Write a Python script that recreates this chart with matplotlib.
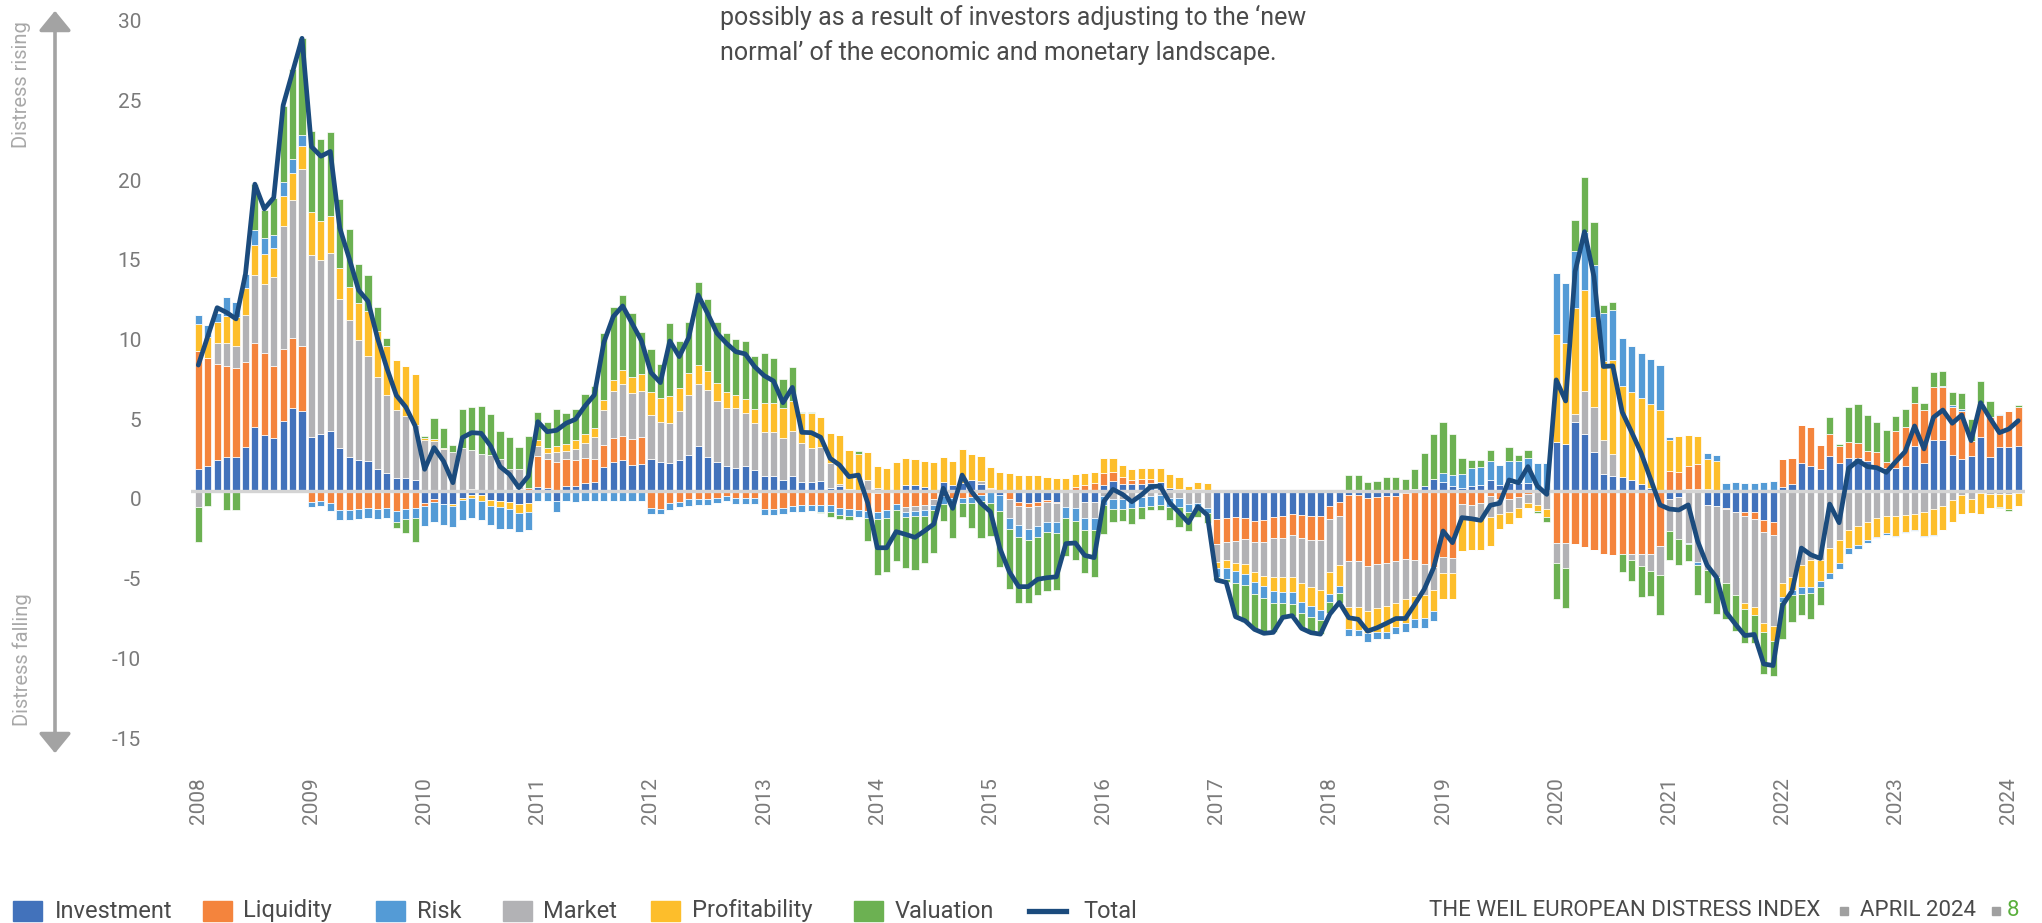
import numpy as np
import matplotlib
matplotlib.use("Agg")
import matplotlib.pyplot as plt
from matplotlib.patches import Rectangle, FancyArrowPatch
from matplotlib.lines import Line2D
import matplotlib.transforms as mtransforms

# ---------------- data (monthly, Jan 2008 .. Feb 2024) ----------------
years = list(range(2008, 2025))

investment = [
    1.4, 1.56, 1.96, 2.16, 2.16, 2.77, 4.03, 3.54, 3.31, 4.38, 5.22, 5.04,
    3.4, 3.6, 3.75, 2.68, 2.16, 1.96, 1.9, 1.38, 1.1, 0.81, 0.81, 0.7,
    -0.77, -0.52, -0.84, -0.84, -0.42, -0.25, -0.25, -0.56, -0.63, -0.69, -0.84, -0.73,
    0.25, 0.17, -0.63, 0.31, 0.31, 0.52, 0.59, 1.51, 1.82, 1.95, 1.61, 1.67,
    1.99, 1.8, 1.78, 1.95, 2.26, 2.82, 2.15, 1.8, 1.57, 1.46, 1.57, 1.32,
    0.94, 0.94, 0.69, 0.94, 0.59, 0.59, 0.65, 0.21, 0.31, 0.1, 0, 0,
    -0.15, 0, 0, 0.36, 0.36, 0.25, 0, 0.59, 0.38, 0.48, 0.69, 0.44,
    0.1, -0.25, 0, -0.67, -0.77, -0.67, -0.56, -0.67, 0, 0, -0.67, -0.67,
    0.38, 0.65, 0.44, 0.42, 0.44, 0.48, 0.54, 0.21, 0.13, 0, 0.13, 0,
    -1.78, -1.72, -1.65, -1.72, -1.88, -1.82, -1.65, -1.57, -1.44, -1.51, -1.55, -1.55,
    -0.94, -0.71, -0.25, -0.25, -0.42, -0.36, -0.29, -0.29, -0.15, 0.1, 0.31, 0.77,
    0.56, 0.31, 0.21, 0.31, 0.36, 0.69, 0.36, 0.52, 0.52, 0.52, 0, 0,
    3.1, 2.93, 4.3, 3.58, 2.45, 1.08, 0.93, 0.87, 0.69, 0.43, 0.17, 0,
    -0.48, -0.39, 0.1, 0.1, -0.87, -0.93, -1.08, -1.3, -1.3, -1.34, -1.84, -1.95,
    0.22, 0.43, 1.78, 1.57, 1.4, 2.2, 1.74, 2.09, 2.05, 1.88, 1.49, 1.42,
    1.42, 1.59, 2.82, 1.78, 3.2, 3.2, 2.26, 1.99, 2.2, 3.41, 2.15, 2.74,
    2.74, 2.82]

liquidity = [
    7.4, 6.77, 5.99, 5.71, 5.56, 5.33, 5.25, 5.11, 4.56, 4.55, 4.38, 4.04,
    -0.72, -0.65, -0.78, -1.21, -1.21, -1.15, -1.07, -1.1, -1.07, -1.27, -1.15, -1.05,
    -0.17, -0.17, 0, 0, 0, 0.1, 0, 0, 0, 0, 0.15, 0.2,
    1.95, 1.82, 1.82, 1.67, 1.63, 1.55, 1.4, 1.36, 1.53, 1.51, 1.63, 1.72,
    -1.05, -1.15, -0.77, -0.67, -0.52, -0.52, -0.52, -0.42, -0.29, -0.46, -0.46, -0.46,
    -1.15, -1.15, -1.09, -0.94, -0.9, -0.88, -0.88, -0.88, -1.09, -1.15, -1.19, -1.26,
    -1.15, -1.19, -0.82, -1.03, -0.92, -0.88, -0.52, -0.3, -0.46, -0.42, -0.36, -0.25,
    0.1, 0, -0.52, -0.27, -0.21, -0.27, -0.1, -0.1, 0, 0.23, 0.38, 0.48,
    0.77, 0.52, 0.44, 0.27, 0.29, 0.27, 0, 0, 0, 0, 0, 0,
    -1.55, -1.46, -1.46, -1.26, -1.3, -1.36, -1.32, -1.36, -1.32, -1.46, -1.53, -1.53,
    -0.84, -0.86, -4.14, -4.14, -4.29, -4.23, -4.25, -4.1, -4.14, -4.35, -4.56, -4.77,
    -4.12, -4.18, -0.84, -0.9, -0.73, -0.31, -0.48, -0.48, -0.38, -0.21, 0, 0,
    -3.28, -3.24, -3.3, -3.51, -3.69, -3.95, -4.01, -3.97, -3.97, -3.97, -3.97, -3.47,
    1.26, 1.19, 1.45, 1.58, 0.15, 0, -0.07, 0, -0.26, -0.43, -0.72, -0.8,
    1.78, 1.67, 2.34, 2.43, 1.49, 1.38, 1.11, 1.0, 0.94, 0.63, 0.94, 0.38,
    2.34, 2.45, 2.72, 3.31, 3.31, 3.31, 3.03, 3.03, 0.94, 2.13, 2.51, 2.03,
    2.3, 2.47]

market = [
    -1.0, 0, 1.33, 1.41, 1.36, 2.94, 4.29, 4.35, 5.56, 7.67, 8.64, 11.12,
    11.38, 10.9, 11.18, 9.37, 8.59, 7.49, 6.54, 5.77, 4.95, 4.26, 3.89, 3.45,
    3.2, 3.14, 2.66, 2.45, 2.72, 2.45, 2.3, 2.24, 2.03, 1.4, 1.21, 0,
    0.63, 0.42, 0.63, 0.52, 0.71, 0.96, 1.4, 2.22, 2.93, 3.24, 2.89, 2.89,
    2.78, 2.51, 2.51, 3.08, 3.77, 3.87, 4.16, 3.85, 3.66, 3.77, 3.35, 2.97,
    2.78, 2.74, 2.62, 2.82, 2.41, 2.13, 2.13, 1.57, 0.15, 0, 0, 0.69,
    0.17, 0, 0, -0.27, -0.31, -0.31, -0.36, 0, 0, 0, 0, 0.21,
    0, 0, -1.15, -1.19, -1.4, -1.23, -1.26, -1.15, -1.03, -1.09, -1.0, -1.0,
    -0.3, -0.52, -0.52, -0.46, -0.36, -0.29, -0.25, -0.46, -0.46, -0.82, -0.73, -1.05,
    -1.11, -1.15, -1.42, -1.61, -1.92, -2.15, -2.41, -2.45, -2.66, -2.82, -2.93, -3.1,
    -3.28, -3.08, -2.87, -2.87, -2.82, -2.78, -2.68, -2.66, -2.51, -2.24, -1.97, -1.44,
    -1.0, -0.94, -0.84, -0.88, -0.88, -1.3, -0.98, -0.84, -0.67, -0.52, -0.88, -1.15,
    -1.21, -1.57, 0.52, 2.71, 2.82, 2.1, 1.41, 0, -0.37, -0.76, -1.02, -1.78,
    -2.02, -2.65, -3.25, -4.45, -4.08, -4.49, -4.6, -5.21, -5.49, -5.49, -5.73, -5.75,
    -5.75, -5.42, -4.66, -4.33, -4.33, -3.56, -3.08, -2.45, -2.18, -1.92, -1.72, -1.57,
    -1.57, -1.51, -1.44, -1.3, -1.15, -0.94, -0.56, -0.25, -0.52, -0.15, -0.21, -0.21,
    -0.21, -0.15]

profitability = [
    1.65, 1.32, 1.33, 1.67, 1.82, 1.7, 1.88, 1.84, 1.79, 1.93, 1.7, 1.47,
    2.74, 2.45, 2.3, 1.93, 2.02, 2.37, 2.83, 2.88, 3.05, 3.17, 3.17, 3.18,
    0.15, 0.15, 0.06, -0.1, -0.15, -0.17, -0.38, -0.38, -0.38, -0.46, -0.52, -0.59,
    0.38, 0.27, 0.38, 0.42, 0.52, 0.52, 0.54, 0.61, 0.67, 0.88, 1.03, 1.09,
    1.46, 1.51, 1.67, 1.42, 1.4, 1.21, 1.23, 1.11, 1.0, 0.79, 0.84, 0.84,
    1.82, 1.82, 1.88, 1.88, 1.88, 2.15, 1.84, 1.88, 3.03, 2.47, 2.3, 1.74,
    1.4, 1.46, 1.8, 1.7, 1.63, 1.65, 1.8, 1.57, 1.51, 2.15, 1.63, 1.55,
    1.28, 1.17, 1.11, 1.0, 1.0, 1.0, 0.86, 0.8, 0.8, 0.82, 0.73, 0.69,
    0.94, 0.88, 0.73, 0.71, 0.69, 0.67, 0.88, 0.86, 0.77, 0.33, 0.46, 0.48,
    -0.42, -0.48, -0.52, -0.59, -0.63, -0.63, -0.88, -0.94, -0.94, -1.19, -1.21, -1.26,
    -1.4, -1.32, -1.42, -1.46, -1.36, -1.46, -1.61, -1.46, -1.51, -1.42, -1.42, -1.32,
    -1.67, -1.67, -2.09, -1.92, -2.09, -1.84, -0.9, -0.77, -0.67, -0.31, -0.38, -0.46,
    6.78, 6.38, 6.64, 6.33, 5.62, 5.0, 5.86, 5.7, 5.49, 5.42, 5.29, 5.1,
    1.95, 2.28, 1.95, 1.74, 1.87, 1.89, 0, 0, -0.33, -0.5, -0.56, -0.89,
    -0.93, -0.82, -1.37, -1.67, -1.3, -1.57, -1.46, -1.15, -1.21, -1.15, -1.15, -1.09,
    -1.26, -1.05, -1.0, -1.53, -1.61, -1.51, -1.4, -1.19, -0.88, -1.3, -0.88, -0.77,
    -0.94, -0.77]

risk = [
    0.6, 0.78, 0.58, 1.24, 0.94, 0.89, 0.92, 1.01, 0.86, 0.87, 0.9, 0.69,
    -0.29, -0.3, -0.49, -0.63, -0.63, -0.63, -0.6, -0.68, -0.6, -0.66, -0.58, -0.65,
    -1.25, -1.26, -1.3, -1.32, -1.26, -1.26, -1.19, -1.21, -1.36, -1.26, -1.19, -1.15,
    -0.63, -0.63, -0.69, -0.63, -0.67, -0.63, -0.63, -0.63, -0.63, -0.63, -0.63, -0.63,
    -0.42, -0.29, -0.42, -0.36, -0.4, -0.36, -0.36, -0.36, -0.33, -0.36, -0.36, -0.36,
    -0.36, -0.36, -0.38, -0.36, -0.4, -0.38, -0.42, -0.46, -0.42, -0.4, -0.42, -0.46,
    -0.46, -0.52, -0.38, -0.36, -0.31, -0.36, -0.31, -0.5, -0.36, -0.36, -0.38, -0.35,
    -0.73, -1.0, -0.71, -0.77, -0.69, -0.69, -0.67, -0.69, -0.69, -0.79, -0.77, -0.77,
    -0.6, -0.63, -0.63, -0.63, -0.67, -0.63, -0.63, -0.52, -0.52, -0.48, -0.25, -0.31,
    -0.52, -0.73, -0.73, -0.73, -0.73, -0.77, -0.75, -0.73, -0.73, -0.69, -0.71, -0.67,
    -0.48, -0.46, -0.42, -0.38, -0.56, -0.48, -0.48, -0.46, -0.52, -0.56, -0.63, -0.63,
    0.54, 0.67, 0.88, 1.15, 1.17, 1.19, 1.26, 1.36, 1.36, 1.57, 1.78, 1.78,
    3.79, 3.72, 3.62, 3.64, 3.28, 2.97, 3.15, 3.02, 2.93, 2.82, 2.82, 2.82,
    0.15, 0, -0.1, -0.22, 0.37, 0.39, 0.48, 0.54, 0.48, 0.5, 0.59, 0.65,
    -0.3, -0.26, -0.43, -0.42, -0.38, -0.36, -0.36, -0.36, -0.27, -0.21, -0.1, -0.1,
    -0.08, -0.1, -0.1, -0.08, -0.06, 0.1, 0.1, 0.1, 0, 0, 0, 0.06,
    0, 0]

valuation = [
    -2.2, -0.92, 0, -1.2, -1.2, 0, 2.88, 1.8, 2.31, 4.75, 5.66, 6.04,
    5.04, 5.15, 5.27, 4.35, 3.69, 2.45, 2.3, 1.5, 0.47, -0.37, -0.92, -1.5,
    0.1, 1.32, 1.21, 0.42, 2.45, 2.74, 3.03, 2.57, 1.74, 1.99, 1.4, 3.24,
    1.76, 1.65, 2.34, 1.99, 1.99, 2.51, 2.66, 4.2, 4.6, 4.71, 4.0, 2.62,
    2.66, 2.13, 4.56, 2.97, 3.2, 5.23, 4.48, 3.83, 3.66, 3.51, 3.68, 3.35,
    3.1, 2.87, 1.84, 2.11, 0.06, 0.06, -0.06, -0.27, -0.25, -0.27, 0.21, -1.4,
    -3.51, -3.35, -3.2, -3.2, -3.41, -2.95, -2.72, -1.1, -2.15, -0.84, -1.61, -2.36,
    -2.09, -3.5, -3.79, -4.1, -3.93, -3.68, -3.71, -3.57, -2.36, -2.45, -2.72, -2.93,
    -1.8, -0.77, -0.73, -1.0, -0.73, -0.27, -0.31, -0.82, -1.26, -1.19, -0.63, -0.67,
    -0.2, -0.15, -2.09, -2.3, -2.22, -2.2, -1.86, -0.88, -0.73, -0.94, -0.96, -0.88,
    -0.73, -0.59, 1.0, 1.0, 0.58, 0.65, 0.9, 0.9, 0.73, 1.28, 2.09, 2.78,
    3.22, 2.57, 1.0, 0.48, 0.4, 0.69, 0, 0.88, 0.36, 0.48, -0.15, -0.33,
    -2.26, -2.55, 1.91, 3.47, 2.71, 0.54, 0.48, -1.13, -1.3, -1.89, -1.58, -2.52,
    -1.84, -1.58, -1.04, -1.84, -2.06, -2.28, -2.28, -2.28, -2.17, -1.78, -2.6, -2.21,
    -2.3, -1.74, -1.34, -1.63, -1.15, 1.09, 0.08, 2.15, 2.47, 2.26, 1.92, 2.03,
    0.96, 1.09, 1.07, 0.46, 0.98, 0.92, 0.79, 1.05, 1.38, 1.36, 1.0, -0.1,
    -0.08, 0.1]

total = [
    7.9, 9.7, 11.5, 11.2, 10.8, 13.6, 19.25, 17.7, 18.4, 24.2, 26.3, 28.4,
    21.6, 21.0, 21.3, 16.5, 14.6, 12.6, 11.9, 9.6, 7.7, 6.0, 5.27, 4.08,
    1.36, 2.72, 1.88, 0.52, 3.35, 3.66, 3.62, 2.82, 1.53, 1.05, 0.21, 0.94,
    4.35, 3.72, 3.81, 4.25, 4.5, 5.33, 6.03, 9.31, 10.94, 11.61, 10.52, 9.41,
    7.43, 6.8, 9.41, 8.43, 9.62, 12.3, 11.15, 9.9, 9.27, 8.74, 8.6, 7.8,
    7.24, 6.9, 5.54, 6.5, 3.68, 3.66, 3.37, 2.05, 1.63, 0.9, 1.0, -0.77,
    -3.56, -3.56, -2.55, -2.72, -2.91, -2.51, -2.07, 0.17, -1.09, 1.0, -0.04, -0.77,
    -1.3, -3.6, -5.06, -6.0, -6.0, -5.54, -5.44, -5.38, -3.3, -3.26, -4.04, -4.18,
    -0.67, 0.1, -0.21, -0.67, -0.25, 0.27, 0.31, -0.73, -1.34, -1.99, -0.98, -1.51,
    -5.59, -5.73, -7.89, -8.14, -8.68, -8.93, -8.87, -7.93, -7.82, -8.62, -8.89, -8.98,
    -7.72, -6.99, -7.95, -8.05, -8.79, -8.58, -8.3, -8.0, -8.0, -7.11, -6.17, -4.81,
    -2.51, -3.24, -1.67, -1.74, -1.84, -0.9, -0.77, 0.69, 0.52, 1.53, 0.31, -0.21,
    6.97, 5.65, 13.77, 16.27, 13.45, 7.81, 7.85, 4.95, 3.69, 2.39, 0.76, -0.87,
    -1.13, -1.19, -0.87, -3.15, -4.66, -5.42, -7.59, -8.35, -9.07, -9.0, -10.85, -10.95,
    -7.16, -6.29, -3.58, -4.0, -4.23, -0.82, -1.99, 1.42, 1.9, 1.53, 1.46, 1.17,
    1.84, 2.47, 4.08, 2.64, 4.62, 5.08, 4.25, 4.77, 3.16, 5.54, 4.56, 3.66,
    3.89, 4.41]

legend_names = ["Investment", "Liquidity", "Risk", "Market", "Profitability", "Valuation", "Total"]

# ---------------- styling ----------------
C = {"Investment": "#4272bb", "Liquidity": "#f4843d", "Risk": "#549bd6",
     "Market": "#b2b2b5", "Profitability": "#fdbe2b", "Valuation": "#6cb152",
     "Total": "#1b4b7d"}
TXT = "#4a4a4a"
TICK = "#7a7a7a"
FONT = ["Roboto", "DejaVu Sans"]
plt.rcParams["font.family"] = FONT

W, H = 2042, 923
fig = plt.figure(figsize=(W / 100, H / 100), dpi=100)

x_first, dx = 198.3, 9.43
xl, xr = -0.75, len(total) - 0.25
left_px = x_first + xl * dx
right_px = x_first + xr * dx
y_zero, upu = 491.0, 15.94
ymin, ymax = -15, 30
top_px = y_zero - ymax * upu
bot_px = y_zero - ymin * upu
ax = fig.add_axes([left_px / W, 1 - bot_px / H, (right_px - left_px) / W, (bot_px - top_px) / H])
ax.set_xlim(xl, xr)
ax.set_ylim(ymin, ymax)

months = np.arange(len(total))
stack = [("Investment", investment), ("Liquidity", liquidity), ("Market", market),
         ("Profitability", profitability), ("Risk", risk), ("Valuation", valuation)]
pos_b = np.zeros(len(total))
neg_b = np.zeros(len(total))
for name, vals in stack:
    v = np.array(vals, dtype=float)
    p = np.where(v > 0, v, 0.0)
    n = np.where(v < 0, v, 0.0)
    ax.bar(months, p, bottom=pos_b, width=0.76, color=C[name], edgecolor="white",
           linewidth=0.5, zorder=2)
    ax.bar(months, n, bottom=neg_b, width=0.76, color=C[name], edgecolor="white",
           linewidth=0.5, zorder=2)
    pos_b += p
    neg_b += n

ax.axhline(0, color="#d4d4d4", lw=2.4, zorder=3)
ax.plot(months, total, color=C["Total"], lw=3.4, zorder=5, solid_joinstyle="round",
        solid_capstyle="round")

for s in ax.spines.values():
    s.set_visible(False)

ax.set_yticks(range(-15, 31, 5))
ax.set_yticklabels([str(v) for v in range(-15, 31, 5)])
ax.tick_params(axis="y", length=0, pad=36, labelsize=15, labelcolor=TICK)
off = mtransforms.ScaledTranslation(0, -8 / 100, fig.dpi_scale_trans)
for lab in ax.get_yticklabels():
    lab.set_transform(lab.get_transform() + off)

ax.set_xticks([12 * i for i in range(len(years))])
ax.set_xticklabels([str(y) for y in years], rotation=90)
ax.tick_params(axis="x", length=0, pad=34, labelsize=15, labelcolor=TICK)

# ---------------- left arrow and labels ----------------
arr = FancyArrowPatch((55 / W, 1 - 8 / H), (55 / W, 1 - 756 / H), transform=fig.transFigure,
                      arrowstyle="<|-|>,head_length=0.55,head_width=0.45", mutation_scale=22,
                      color="#a3a3a3", lw=2.6)
fig.patches.append(arr)
fig.text(22 / W, 1 - 85 / H, "Distress rising", rotation=90, ha="center", va="center",
         fontsize=14.5, color="#a8a8a8")
fig.text(22 / W, 1 - 660 / H, "Distress falling", rotation=90, ha="center", va="center",
         fontsize=14.5, color="#a8a8a8")

# ---------------- top text ----------------
fig.text(720 / W, 1 - 17 / H, "possibly as a result of investors adjusting to the \u2018new",
         ha="left", va="center", fontsize=18, color=TXT)
fig.text(720 / W, 1 - 53 / H, "normal\u2019 of the economic and monetary landscape.",
         ha="left", va="center", fontsize=18, color=TXT)

# ---------------- legend (manual) ----------------
leg_y = 911
items = [("Investment", 13, 55), ("Liquidity", 203, 243), ("Risk", 376, 417),
         ("Market", 503, 543), ("Profitability", 651, 692), ("Valuation", 854, 895)]
for name, sx, tx in items:
    fig.patches.append(Rectangle((sx / W, 1 - 921 / H), 29 / W, 20 / H,
                                 transform=fig.transFigure, color=C[name]))
    fig.text(tx / W, 1 - leg_y / H, name, ha="left", va="center", fontsize=17, color=TXT)
fig.lines.append(Line2D([1029 / W, 1066 / W], [1 - leg_y / H, 1 - leg_y / H],
                        transform=fig.transFigure, color=C["Total"], lw=3.8))
fig.text(1083 / W, 1 - leg_y / H, "Total", ha="left", va="center", fontsize=17, color=TXT)

# ---------------- footer ----------------
fig.text(1429 / W, 1 - leg_y / H, "THE WEIL EUROPEAN DISTRESS INDEX", ha="left",
         va="center", fontsize=16, color=TXT)
fig.patches.append(Rectangle((1840 / W, 1 - 915 / H), 8 / W, 8 / H,
                             transform=fig.transFigure, color="#a0a0a0"))
fig.text(1860 / W, 1 - leg_y / H, "APRIL 2024", ha="left", va="center",
         fontsize=16, color=TXT)
fig.patches.append(Rectangle((1992 / W, 1 - 915 / H), 8 / W, 8 / H,
                             transform=fig.transFigure, color="#a0a0a0"))
fig.text(2007 / W, 1 - leg_y / H, "8", ha="left", va="center", fontsize=16,
         color="#5aaf3c")

fig.savefig("out.png", dpi=100)
